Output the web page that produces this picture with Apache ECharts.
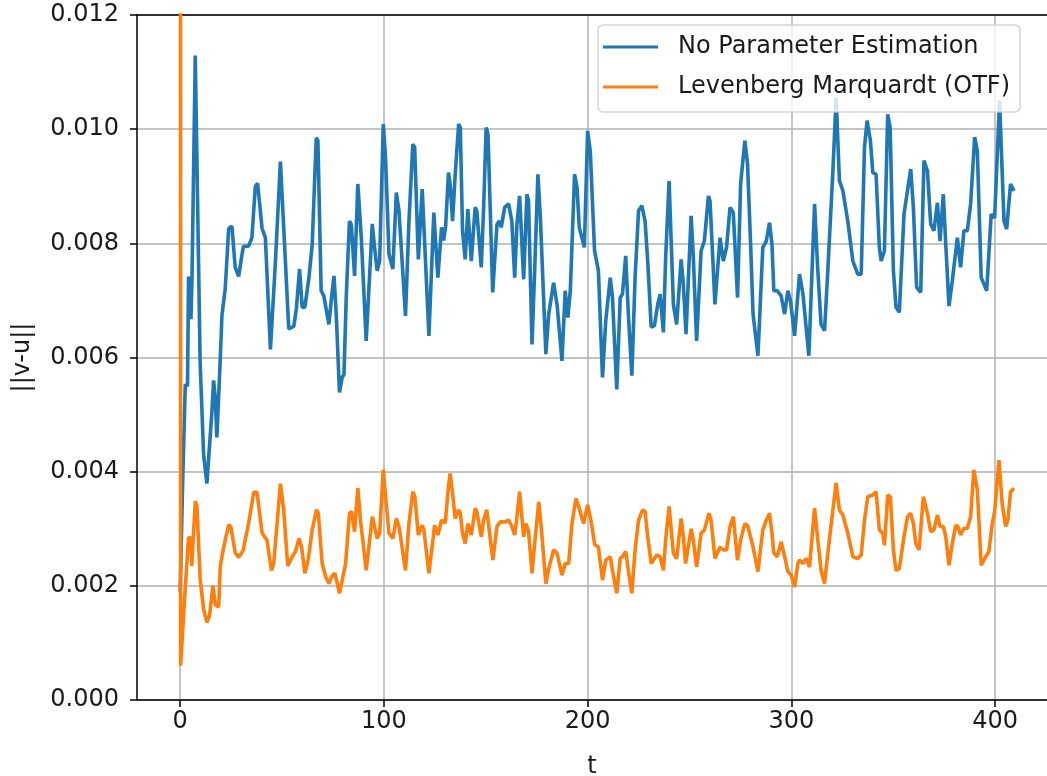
<!DOCTYPE html>
<html lang="en">
<head>
<meta charset="UTF-8">
<title>||v-u||</title>
<style>
    html, body { margin: 0; padding: 0; background: #fff; }
    #chart { width: 1047px; height: 776px; }
</style>
</head>
<body>
<div id="chart"></div>
<script src="https://cdn.jsdelivr.net/npm/echarts@6.0.0/dist/echarts.min.js"></script>
<script>
    // series names
    var names = ['No Parameter Estimation', 'Levenberg Marquardt (OTF)'];
    var xTicks = [0, 100, 200, 300, 400];

    // blue: no parameter estimation
    var tBlue = [0, 1.2, 2.5, 3.6, 4.1, 5.0, 5.3, 5.8, 7.4, 8.2, 9.8, 11.5, 13.1, 13.9, 15.6, 16.4, 17.2, 18.0, 18.9, 19.7,
        20.5, 22.1, 23.8, 25.4, 27.0, 28.7, 30.3, 31.1, 33.6, 35.2, 36.9, 38.0, 40.2, 41.8, 44.3, 45.1, 46.7, 49.2, 50.0, 53.3,
        55.8, 57.0, 58.6, 59.9, 61.2, 63.2, 64.8, 66.8, 67.6, 69.2, 70.5, 71.4, 73.0, 74.3, 75.5, 76.6, 78.2, 79.5, 80.4, 81.5,
        83.1, 84.0, 85.6, 87.2, 88.9, 91.3, 94.3, 95.4, 96.7, 97.9, 99.7, 100.8, 102.5, 104.4, 106.1, 107.4, 110.6, 112.3, 114.2, 115.1,
        116.9, 118.8, 119.6, 122.1, 124.5, 126.5, 128.3, 129.3, 130.3, 131.7, 132.5, 133.7, 135.0, 136.7, 137.5, 138.6, 139.9, 141.2, 142.9, 144.8,
        145.6, 147.8, 148.9, 150.2, 151.1, 153.4, 155.5, 156.7, 157.6, 159.3, 161.2, 162.8, 164.2, 165.3, 166.6, 168.6, 170.2, 171.0, 172.7, 174.0,
        175.6, 176.8, 179.5, 180.9, 183.3, 185.0, 187.4, 189.0, 190.3, 191.5, 193.6, 194.8, 195.9, 198.4, 200.0, 201.3, 203.4, 205.3, 207.3, 208.9,
        211.1, 212.2, 214.3, 216.0, 217.1, 218.7, 220.0, 221.7, 223.3, 225.0, 226.6, 228.2, 229.5, 231.2, 232.8, 234.4, 235.6, 237.2, 238.3, 240.0,
        242.1, 243.7, 245.9, 247.0, 248.3, 250.8, 251.9, 253.5, 255.7, 257.3, 259.3, 260.1, 262.5, 265.0, 266.6, 268.2, 269.9, 271.5, 273.6, 275.1,
        277.2, 278.5, 280.0, 281.2, 283.6, 286.0, 287.7, 289.3, 290.5, 291.4, 293.1, 295.0, 296.7, 298.3, 299.6, 301.6, 304.0, 305.7, 308.6, 311.4,
        313.0, 314.6, 316.3, 317.9, 320.4, 322.0, 323.6, 325.3, 327.7, 330.2, 332.6, 334.3, 335.9, 337.2, 338.8, 340.0, 341.6, 343.2, 344.1, 345.7,
        347.3, 348.5, 350.1, 351.4, 353.0, 355.3, 357.0, 358.6, 359.9, 361.5, 363.5, 365.1, 366.8, 368.4, 370.0, 371.7, 373.0, 374.6, 375.8, 377.4,
        379.0, 381.5, 383.1, 384.7, 386.4, 388.0, 390.0, 391.3, 393.2, 395.9, 398.1, 399.8, 402.2, 404.4, 405.7, 407.6, 409.3];
    var vBlue = [0.0019, 0.0038, 0.00553, 0.0055, 0.00742, 0.00742, 0.00667, 0.0074, 0.01129, 0.01129, 0.0059, 0.0043, 0.00379, 0.0038, 0.00507, 0.0056, 0.0053, 0.0046, 0.0046, 0.006,
        0.00674, 0.0072, 0.00826, 0.0083, 0.00758, 0.00742, 0.0078, 0.00795, 0.00795, 0.0081, 0.009, 0.00905, 0.00826, 0.0081, 0.00614, 0.00614, 0.00765, 0.00943, 0.00943, 0.0065,
        0.00655, 0.00685, 0.00755, 0.00688, 0.00688, 0.0074, 0.00798, 0.00985, 0.0098, 0.00717, 0.00708, 0.00708, 0.00658, 0.00705, 0.00743, 0.00676, 0.00539, 0.00565, 0.0057, 0.00705,
        0.00839, 0.00833, 0.00743, 0.00904, 0.0081, 0.00629, 0.00834, 0.00793, 0.00752, 0.00769, 0.01009, 0.0095, 0.00781, 0.00755, 0.00889, 0.00857, 0.00673, 0.00839, 0.00974, 0.00968,
        0.00772, 0.00895, 0.00892, 0.00638, 0.00854, 0.0074, 0.00828, 0.00805, 0.0083, 0.00924, 0.00904, 0.00839, 0.00921, 0.01009, 0.01003, 0.00822, 0.00772, 0.0086, 0.00769, 0.00863,
        0.00857, 0.00758, 0.00857, 0.01003, 0.00991, 0.00714, 0.00833, 0.00839, 0.00828, 0.00863, 0.00869, 0.00839, 0.0074, 0.00833, 0.00883, 0.00737, 0.00886, 0.00874, 0.00623, 0.00752,
        0.00921, 0.00845, 0.00606, 0.00676, 0.00731, 0.00693, 0.00594, 0.00717, 0.0067, 0.00717, 0.00921, 0.00898, 0.00828, 0.00793, 0.00997, 0.00962, 0.00787, 0.00752, 0.00565, 0.00664,
        0.0074, 0.00705, 0.00544, 0.00705, 0.00711, 0.00778, 0.00676, 0.00568, 0.0074, 0.00857, 0.00866, 0.00839, 0.00769, 0.00653, 0.00656, 0.00693, 0.00711, 0.00644, 0.00775, 0.00909,
        0.00693, 0.00658, 0.00772, 0.00728, 0.00641, 0.00848, 0.00775, 0.00629, 0.00787, 0.00804, 0.00883, 0.00874, 0.00693, 0.0081, 0.00769, 0.00793, 0.00863, 0.00854, 0.00705, 0.00904,
        0.0098, 0.00939, 0.008, 0.00676, 0.00603, 0.00793, 0.00804, 0.00836, 0.00798, 0.00717, 0.00717, 0.00708, 0.00676, 0.00717, 0.00699, 0.00638, 0.00746, 0.00711, 0.00603, 0.00869,
        0.00752, 0.00658, 0.00647, 0.00752, 0.00927, 0.01055, 0.0091, 0.00892, 0.00839, 0.00769, 0.00746, 0.00746, 0.00968, 0.01015, 0.0098, 0.00924, 0.00921, 0.00793, 0.00769, 0.00787,
        0.01026, 0.01003, 0.00752, 0.00688, 0.00679, 0.00851, 0.00892, 0.0093, 0.00863, 0.00723, 0.00714, 0.00945, 0.00927, 0.00834, 0.00822, 0.00871, 0.00804, 0.00886, 0.00798, 0.0069,
        0.00734, 0.0081, 0.00758, 0.00822, 0.00822, 0.00869, 0.00986, 0.00962, 0.0074, 0.00717, 0.00851, 0.00845, 0.0105, 0.00839, 0.00825, 0.00904, 0.00892];

    // orange: Levenberg Marquardt (OTF), first value is far above the axis
    var tOrange = [0, 0.2, 2.5, 3.3, 4.1, 5.2, 5.7, 6.6, 7.4, 8.2, 9.8, 11.5, 13.1, 14.4, 16.1, 17.2, 18.9, 19.7, 21.0, 22.1,
        23.8, 24.9, 27.0, 28.7, 30.8, 33.6, 36.1, 37.7, 40.2, 42.6, 44.8, 45.9, 49.2, 50.8, 52.8, 55.0, 56.6, 58.3, 59.6, 61.2,
        62.8, 64.8, 66.9, 67.8, 69.7, 71.4, 73.0, 74.3, 75.9, 77.1, 78.2, 79.9, 81.2, 83.1, 84.1, 85.6, 87.2, 88.5, 91.3, 94.3,
        95.4, 96.7, 97.9, 99.7, 100.8, 102.5, 104.4, 106.1, 107.4, 110.6, 112.3, 114.2, 115.2, 116.9, 118.8, 119.6, 122.1, 124.9, 126.5, 128.3,
        130.1, 131.7, 132.5, 133.7, 135.0, 136.7, 137.5, 138.6, 139.9, 141.2, 142.9, 144.8, 145.6, 147.8, 148.9, 150.5, 151.4, 153.5, 155.5, 157.1,
        159.6, 161.2, 162.8, 164.2, 165.3, 166.6, 168.6, 169.7, 171.0, 172.7, 174.0, 176.0, 177.2, 179.5, 180.9, 183.3, 185.0, 187.4, 189.0, 190.7,
        192.3, 194.3, 195.6, 198.0, 200.0, 201.6, 203.5, 205.3, 207.3, 208.9, 211.1, 212.2, 214.3, 216.0, 217.1, 218.7, 220.0, 221.7, 223.3, 225.0,
        227.0, 228.2, 229.5, 231.2, 232.8, 234.0, 235.6, 237.2, 238.3, 240.0, 242.1, 243.7, 245.9, 247.0, 248.1, 250.8, 251.9, 253.5, 255.7, 257.3,
        259.6, 260.6, 262.5, 265.0, 266.6, 268.2, 269.9, 271.5, 273.6, 275.1, 277.2, 278.6, 281.2, 283.6, 286.0, 287.7, 289.3, 290.5, 291.4, 293.1,
        295.0, 296.7, 298.3, 299.9, 301.6, 303.2, 304.0, 305.7, 307.3, 308.9, 311.4, 313.0, 314.6, 316.3, 317.9, 320.4, 322.0, 323.6, 325.3, 327.7,
        330.2, 332.6, 334.3, 335.9, 337.5, 340.0, 341.6, 343.2, 344.9, 345.7, 347.3, 348.6, 350.1, 351.4, 353.0, 355.3, 357.0, 358.6, 359.9, 361.1,
        362.7, 363.5, 364.8, 366.8, 368.4, 370.0, 371.7, 373.0, 374.6, 375.8, 377.4, 379.0, 380.7, 381.8, 383.1, 384.7, 386.4, 388.0, 389.6, 391.3,
        393.2, 395.4, 397.0, 398.6, 399.8, 401.9, 403.5, 405.2, 406.3, 407.6, 409.3];
    var vOrange = [0.05, 0.0006, 0.00197, 0.002, 0.00284, 0.00284, 0.00235, 0.00235, 0.00348, 0.00341, 0.00212, 0.00159, 0.00136, 0.00148, 0.002, 0.00167, 0.00163, 0.00235, 0.00261, 0.0028,
        0.00307, 0.00303, 0.00258, 0.0025, 0.00261, 0.0031, 0.00364, 0.00364, 0.00292, 0.0028, 0.00227, 0.00239, 0.00379, 0.00333, 0.00235, 0.00251, 0.0026, 0.00283, 0.00268, 0.00222,
        0.00245, 0.00298, 0.00333, 0.00327, 0.00239, 0.00216, 0.00204, 0.00216, 0.00222, 0.00204, 0.00187, 0.00216, 0.00239, 0.00327, 0.0033, 0.00295, 0.00371, 0.00315, 0.00227, 0.00321,
        0.00304, 0.00283, 0.00292, 0.00403, 0.00356, 0.00292, 0.00283, 0.00318, 0.00304, 0.00227, 0.0031, 0.00365, 0.00356, 0.00289, 0.00306, 0.00298, 0.00222, 0.00306, 0.00289, 0.00315,
        0.0031, 0.00374, 0.00397, 0.00362, 0.00318, 0.00333, 0.00327, 0.00292, 0.00274, 0.00309, 0.00289, 0.00336, 0.0033, 0.00286, 0.00315, 0.00333, 0.0033, 0.00245, 0.00304, 0.00312,
        0.00312, 0.00315, 0.00304, 0.00289, 0.00321, 0.00365, 0.00286, 0.00309, 0.00295, 0.00222, 0.00274, 0.00347, 0.00304, 0.00204, 0.0023, 0.00263, 0.00257, 0.00219, 0.00239, 0.00239,
        0.00309, 0.00353, 0.00339, 0.00309, 0.00342, 0.00315, 0.00272, 0.00268, 0.0021, 0.00245, 0.00251, 0.00227, 0.00187, 0.00248, 0.00251, 0.0026, 0.00227, 0.00187, 0.00263, 0.00315,
        0.00333, 0.0033, 0.00286, 0.00239, 0.00248, 0.00254, 0.00251, 0.00227, 0.0028, 0.00339, 0.00257, 0.00248, 0.00318, 0.00286, 0.00239, 0.003, 0.0028, 0.00233, 0.00292, 0.00298,
        0.00327, 0.00315, 0.00248, 0.00268, 0.00263, 0.00263, 0.00304, 0.00321, 0.00245, 0.0028, 0.00309, 0.00305, 0.00268, 0.00225, 0.00298, 0.00315, 0.00327, 0.00292, 0.00257, 0.00251,
        0.00277, 0.00251, 0.00225, 0.00219, 0.00198, 0.00239, 0.00245, 0.00239, 0.00248, 0.00233, 0.00336, 0.0028, 0.00227, 0.00204, 0.00257, 0.00333, 0.0038, 0.00333, 0.00324, 0.00292,
        0.00251, 0.00248, 0.00254, 0.00315, 0.00356, 0.00359, 0.00365, 0.00298, 0.00292, 0.00271, 0.00359, 0.00356, 0.00263, 0.00227, 0.0023, 0.00286, 0.00321, 0.00327, 0.00309, 0.00274,
        0.00263, 0.00266, 0.00356, 0.00327, 0.00295, 0.00298, 0.00324, 0.00304, 0.00304, 0.00286, 0.00236, 0.00274, 0.00306, 0.00304, 0.00289, 0.00301, 0.00301, 0.00321, 0.00403, 0.00368,
        0.00236, 0.00251, 0.0026, 0.00309, 0.0033, 0.0042, 0.00344, 0.00304, 0.00315, 0.00365, 0.00371];

    function pairs(t, v) {
        var out = [];
        for (var i = 0; i < t.length; i++) {
            out.push([t[i], v[i]]);
        }
        return out;
    }

    var font = 'DejaVu Sans';
    var textColor = '#1a1a1a';
    var xMin = -21.2, xMax = 425.5; // plot runs off the right edge of the picture
    var chart = echarts.init(document.getElementById('chart'));

    var option = {
        animation: false,
        backgroundColor: '#ffffff',
        grid: { left: 137, top: 15, right: 0, bottom: 76, outerBoundsMode: 'none', containLabel: false },
        legend: {
            orient: 'vertical',
            left: 598, top: 25,
            padding: [10, 10, 13, 5],
            itemWidth: 55, itemHeight: 3, itemGap: 16,
            selectedMode: false,
            backgroundColor: 'rgba(255,255,255,0.8)',
            borderColor: 'rgba(204,204,204,0.8)',
            borderWidth: 1.5, borderRadius: 5,
            textStyle: { fontFamily: font, fontSize: 24, lineHeight: 24, color: textColor, padding: [0, 0, 0, 15] },
            data: [
                { name: names[0], icon: 'rect' },
                { name: names[1], icon: 'rect' }
            ]
        },
        xAxis: [
            {
                type: 'value',
                min: xMin, max: xMax, splitNumber: 5,
                name: 't', nameLocation: 'middle', nameGap: 55,
                nameTextStyle: { fontFamily: font, fontSize: 24, color: textColor },
                axisLine: { show: true, onZero: false, lineStyle: { color: '#000', width: 1.5 } },
                axisTick: { show: true, customValues: xTicks, length: 7, lineStyle: { color: '#000', width: 1.5 } },
                axisLabel: { customValues: xTicks, margin: 10, fontFamily: font, fontSize: 24, color: textColor },
                splitLine: { show: true, lineStyle: { color: '#b0b0b0', width: 1.5 } }
            },
            {
                // top spine only
                type: 'value', position: 'top',
                min: xMin, max: xMax,
                axisLine: { show: true, onZero: false, lineStyle: { color: '#000', width: 1.5 } },
                axisTick: { show: false }, axisLabel: { show: false }, splitLine: { show: false }
            }
        ],
        yAxis: {
            type: 'value',
            min: 0, max: 0.012, interval: 0.002,
            name: '||v-u||', nameLocation: 'middle', nameGap: 102, nameRotate: 90,
            nameTextStyle: { fontFamily: font, fontSize: 24, color: textColor },
            axisLine: { show: true, onZero: false, lineStyle: { color: '#000', width: 1.5 } },
            axisTick: { show: true, length: 7, lineStyle: { color: '#000', width: 1.5 } },
            axisLabel: {
                margin: 18, fontFamily: font, fontSize: 24, color: textColor,
                formatter: function (v) { return v.toFixed(3); }
            },
            splitLine: { show: true, lineStyle: { color: '#b0b0b0', width: 1.5 } }
        },
        series: [
            {
                name: names[0], type: 'line', showSymbol: false, symbol: 'none', clip: true,
                color: '#1f77b4', lineStyle: { width: 3.6, color: '#1f77b4' },
                data: pairs(tBlue, vBlue)
            },
            {
                name: names[1], type: 'line', showSymbol: false, symbol: 'none', clip: true,
                color: '#ff7f0e', lineStyle: { width: 3.6, color: '#ff7f0e' },
                data: pairs(tOrange, vOrange)
            }
        ]
    };
    chart.setOption(option);
</script>
</body>
</html>
